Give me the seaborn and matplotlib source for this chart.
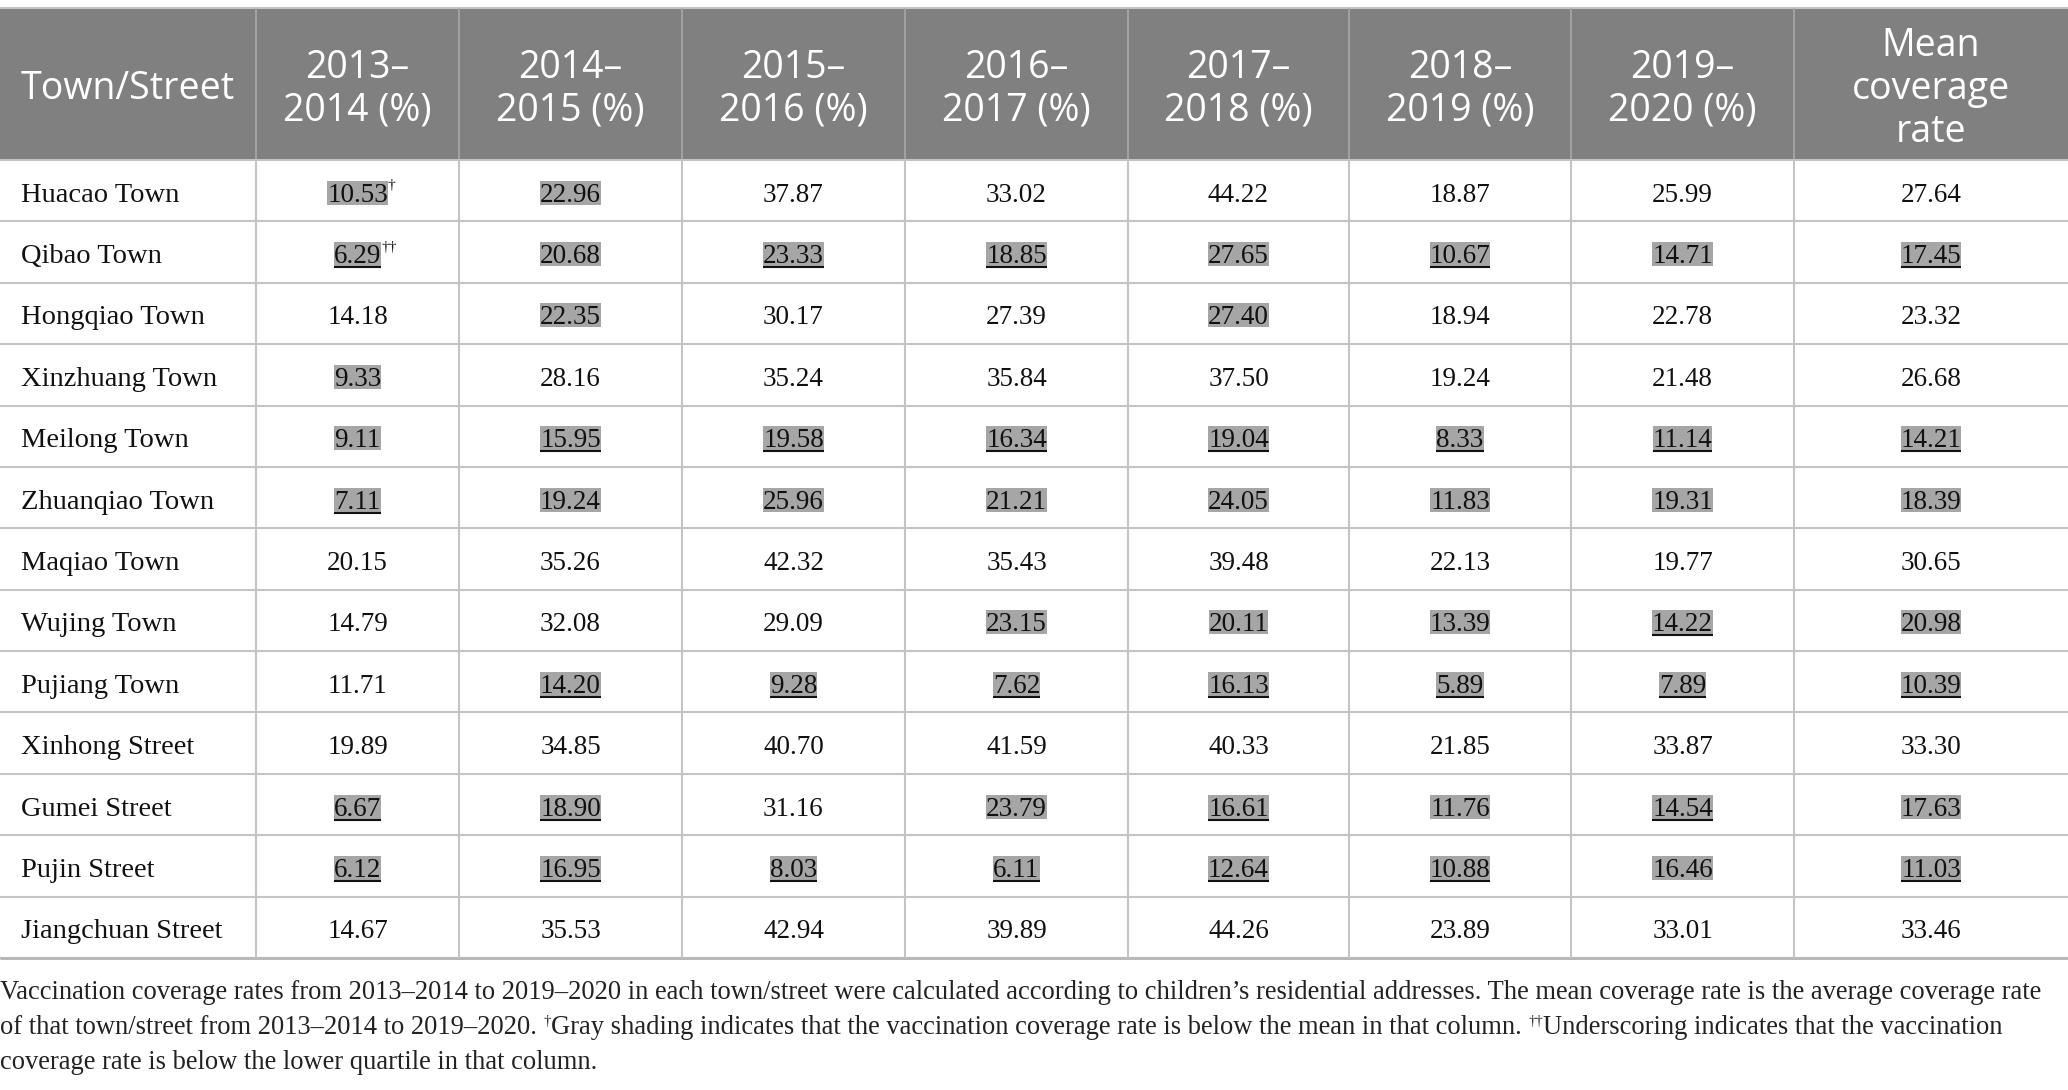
import matplotlib
matplotlib.use("Agg")
import matplotlib.pyplot as plt
from matplotlib.patches import Rectangle
import seaborn as sns

# table content
towns = ["Huacao Town", "Qibao Town", "Hongqiao Town", "Xinzhuang Town", "Meilong Town",
         "Zhuanqiao Town", "Maqiao Town", "Wujing Town", "Pujiang Town", "Xinhong Street",
         "Gumei Street", "Pujin Street", "Jiangchuan Street"]
headers = ["Town/Street", "2013–\n2014 (%)", "2014–\n2015 (%)", "2015–\n2016 (%)", "2016–\n2017 (%)",
           "2017–\n2018 (%)", "2018–\n2019 (%)", "2019–\n2020 (%)", "Mean\ncoverage\nrate"]

cov_2013 = [10.53, 6.29, 14.18, 9.33, 9.11, 7.11, 20.15, 14.79, 11.71, 19.89, 6.67, 6.12, 14.67]
cov_2014 = [22.96, 20.68, 22.35, 28.16, 15.95, 19.24, 35.26, 32.08, 14.20, 34.85, 18.90, 16.95, 35.53]
cov_2015 = [37.87, 23.33, 30.17, 35.24, 19.58, 25.96, 42.32, 29.09, 9.28, 40.70, 31.16, 8.03, 42.94]
cov_2016 = [33.02, 18.85, 27.39, 35.84, 16.34, 21.21, 35.43, 23.15, 7.62, 41.59, 23.79, 6.11, 39.89]
cov_2017 = [44.22, 27.65, 27.40, 37.50, 19.04, 24.05, 39.48, 20.11, 16.13, 40.33, 16.61, 12.64, 44.26]
cov_2018 = [18.87, 10.67, 18.94, 19.24, 8.33, 11.83, 22.13, 13.39, 5.89, 21.85, 11.76, 10.88, 23.89]
cov_2019 = [25.99, 14.71, 22.78, 21.48, 11.14, 19.31, 19.77, 14.22, 7.89, 33.87, 14.54, 16.46, 33.01]
mean_cov = [27.64, 17.45, 23.32, 26.68, 14.21, 18.39, 30.65, 20.98, 10.39, 33.30, 17.63, 11.03, 33.46]

# 1 = gray shading (below column mean), per row, one flag per value column
shaded = ["11000000", "11111111", "01001000", "10000000", "11111111", "11111111", "00000000",
          "00011111", "01111111", "00000000", "11011111", "11111111", "00000000"]
# 1 = underscoring (below lower quartile)
underlined = ["00000000", "10110101", "00000000", "00000000", "01111111", "10000000", "00000000",
              "00000010", "01111111", "00000000", "11001010", "11111101", "00000000"]
# footnote marks on cells
marks = {(0, 0): "†", (1, 0): "††"}

caption_1 = ("Vaccination coverage rates from 2013–2014 to 2019–2020 in each town/street were calculated "
             "according to children’s residential addresses. The mean coverage rate is the average coverage rate")
caption_2 = ["of that town/street from 2013–2014 to 2019–2020. ", "†",
             "Gray shading indicates that the vaccination coverage rate is below the mean in that column. ", "††",
             "Underscoring indicates that the vaccination"]
caption_3 = "coverage rate is below the lower quartile in that column."

columns = [cov_2013, cov_2014, cov_2015, cov_2016, cov_2017, cov_2018, cov_2019, mean_cov]

sns.set_theme(style="white")
serif = ["Liberation Serif", "DejaVu Serif"]
sans = ["Open Sans", "DejaVu Sans"]

W, H = 2068, 1090
fig = plt.figure(figsize=(W / 100, H / 100), dpi=100)
ax = fig.add_axes([0, 0, 1, 1])
ax.set_xlim(0, W)
ax.set_ylim(H, 0)
ax.axis("off")

col_edges = [0, 256, 459, 682, 905, 1128, 1349, 1571, 1794, 2068]
head_top, head_bot = 8, 160
row_h = (958 - head_bot) / len(towns)
grid_c = "#c4c4c4"

# header band
ax.fill_between([0, W], head_top, head_bot, color="#808080", lw=0)
ax.hlines(head_top, 0, W, color="#c4c4c4", lw=1.5)
ax.vlines(col_edges[1:-1], head_top, head_bot, color="#a8a8a8", lw=1.2)
for j, h in enumerate(headers):
    cy = (head_top + head_bot) / 2 + 5
    if j == 0:
        ax.text(21, cy, h, ha="left", va="center", color="white", fontsize=27, family=sans)
    else:
        cx = (col_edges[j] + col_edges[j + 1]) / 2
        ax.text(cx, cy, h, ha="center", va="center", color="white", fontsize=27,
                family=sans, linespacing=1.16, multialignment="center")

# body grid
row_lines = [head_bot + i * row_h for i in range(len(towns) + 1)]
ax.hlines(row_lines, 0, W, color=grid_c, lw=1.5)
ax.hlines(row_lines[-1], 0, W, color="#b8b8b8", lw=2.2)
ax.vlines(col_edges[1:-1], head_bot, row_lines[-1], color=grid_c, lw=1.5)

cells = []
for i, town in enumerate(towns):
    base = head_bot + (i + 0.5) * row_h + 11
    ax.text(21, base, town, ha="left", va="baseline", fontsize=20.5, family=serif, color="#111111")
    for j, vals in enumerate(columns):
        cx = (col_edges[j + 1] + col_edges[j + 2]) / 2
        t = ax.text(cx, base, f"{vals[i]:.2f}", ha="center", va="baseline", fontsize=19.5,
                    family=serif, color="#111111", zorder=3)
        if (i, j) in marks:
            ax.annotate(marks[(i, j)], xy=(1, 0.62), xycoords=t, ha="left", va="bottom",
                        fontsize=11, family=serif, color="#111111", zorder=4)
        cells.append((t, base, shaded[i][j] == "1", underlined[i][j] == "1"))

# caption line 1 and 3
cap_kw = dict(fontsize=19.1, family=serif, color="#222222", va="baseline", ha="left")
ax.text(0, 999, caption_1, **cap_kw)
ax.text(0, 1069, caption_3, **cap_kw)

# shading boxes, underscoring and the caption pieces need rendered extents
fig.canvas.draw()
renderer = fig.canvas.get_renderer()
inv = ax.transData.inverted()
for t, base, is_shaded, is_under in cells:
    if not (is_shaded or is_under):
        continue
    bb = t.get_window_extent(renderer)
    x0 = inv.transform((bb.x0, bb.y0))[0]
    x1 = inv.transform((bb.x1, bb.y0))[0]
    if is_shaded:
        ax.add_patch(Rectangle((x0, base - 21), x1 - x0, 24, facecolor="#a6a6a6",
                               edgecolor="none", zorder=2.5))
    if is_under:
        ax.plot([x0, x1], [base + 4, base + 4], color="#111111", lw=1.5,
                solid_capstyle="butt", zorder=5)

x = 0
for piece in caption_2:
    if piece.startswith("†"):
        t = ax.text(x, 1034 - 9, piece, fontsize=10.5, family=serif, color="#222222",
                    va="baseline", ha="left")
    else:
        t = ax.text(x, 1034, piece, **cap_kw)
    bb = t.get_window_extent(renderer)
    x = inv.transform((bb.x1, bb.y0))[0]

fig.savefig("out.png", dpi=100)
